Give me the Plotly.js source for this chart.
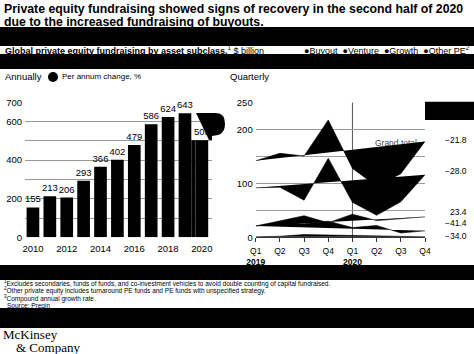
<!DOCTYPE html>
<html><head><meta charset="utf-8">
<script src="https://cdn.plot.ly/plotly-3.0.1.min.js"></script>
<style>html,body{margin:0;padding:0;background:#fff;overflow:hidden}#chart{width:474px;height:354px}</style>
</head><body><div id="chart"></div>
<script>
// ---------- data ----------
const years = [2010, 2011, 2012, 2013, 2014, 2015, 2016, 2017, 2018, 2019, 2020];
const annualTotals = [155, 213, 206, 293, 366, 402, 479, 586, 624, 643, 503];
const annualTickVals = [2010, 2012, 2014, 2016, 2018, 2020];
const annualYTicks = [0, 200, 400, 600, 700];

const quarterIdx = [0, 1, 2, 3, 4, 5, 6, 7];
const quarterLabels = ['Q1<br><b>2019</b>', 'Q2', 'Q3', 'Q4', 'Q1<br><b>2020</b>', 'Q2', 'Q3', 'Q4'];
const quarterYTicks = [0, 100, 200, 250];

const grandTotal = [142, 156, 151, 218, 128, 95, 118, 178];
const buyout     = [92, 93, 69, 147, 65, 41, 66, 116];
const growth     = [21, 30, 40, 27, 43, 31, 34, 38];
const venture    = [21, 27, 25, 30, 18, 22, 8, 12];
const otherPE    = [1, 2, 5, 4, 3, 2, 2, 1];
const changeLabels = ['\u221221.8', '\u221228.0', '23.4', '\u221241.4', '\u221234.0'];

// ---------- layout helpers ----------
const W = 474, H = 354;
const px = x => x / W;
const py = y => 1 - y / H;
const FONT = 'Liberation Sans, Arial, sans-serif';
const changeY = [181, 123, 47, 27, 2.4];   // label placement on quarterly scale

const traces = [];
traces.push({
  type: 'bar', x: years, y: annualTotals, xaxis: 'x', yaxis: 'y',
  marker: {color: '#000'}, width: 0.75,
  text: annualTotals.map(String), textposition: 'outside', cliponaxis: false,
  constraintext: 'none', textfont: {family: FONT, size: 9.5, color: '#000'},
  hoverinfo: 'skip'
});
traces.push({
  type: 'scatter', mode: 'text', x: [5.8], y: [174], text: ['Grand total'],
  xaxis: 'x2', yaxis: 'y2', cliponaxis: false,
  textfont: {family: FONT, size: 8.5, color: '#444'}, hoverinfo: 'skip'
});
[grandTotal, buyout, growth, venture, otherPE].forEach(s => {
  traces.push({
    type: 'scatter', mode: 'lines', x: quarterIdx, y: s, xaxis: 'x2', yaxis: 'y2',
    fill: 'toself', fillcolor: '#000', line: {color: '#000', width: 0.6},
    hoverinfo: 'skip'
  });
});
traces.push({
  type: 'scatter', mode: 'markers', x: changeY.map(() => 7.5), y: changeY,
  xaxis: 'x2', yaxis: 'y2', cliponaxis: false,
  marker: {color: '#000', size: 7}, hoverinfo: 'skip'
});

function band(y0, y1, x0 = 0, x1 = W) {
  return {type: 'rect', xref: 'paper', yref: 'paper', x0: px(x0), x1: px(x1),
          y0: py(y1), y1: py(y0), fillcolor: '#000', line: {width: 0}, layer: 'above'};
}
function bandAnn(y0, y1, x0 = 0, x1 = W) {
  return {xref: 'paper', yref: 'paper', x: px(x0), y: py(y0), xanchor: 'left', yanchor: 'top',
          text: ' ', showarrow: false, bgcolor: '#000', width: x1 - x0, height: y1 - y0,
          borderpad: 0, borderwidth: 0};
}
function txt(x, y, text, size, opts = {}) {
  return Object.assign({xref: 'paper', yref: 'paper', x: px(x), y: py(y), xanchor: 'left',
    yanchor: 'middle', text: text, showarrow: false,
    font: {family: FONT, size: size, color: '#000'}}, opts);
}

const bubblePath = 'M' + px(196) + ',' + py(113) + ' L' + px(216) + ',' + py(113) +
  ' Q' + px(225) + ',' + py(113) + ' ' + px(225) + ',' + py(124) +
  ' Q' + px(225) + ',' + py(133) + ' ' + px(218) + ',' + py(135) +
  ' L' + px(212) + ',' + py(136) + ' L' + px(212) + ',' + py(140) +
  ' L' + px(209) + ',' + py(140) + ' Z';

const serif = {family: 'Liberation Serif, serif', size: 13, color: '#000'};
const annotations = [
  txt(2, 9, '<b>Private equity fundraising showed signs of recovery in the second half of 2020</b>', 12.3),
  txt(2, 21.5, '<b>due to the increased fundraising of buyouts.</b>', 12.3),
  bandAnn(26.7, 46),
  txt(3, 50, '<b>Global private equity fundraising by asset subclass,</b><sup>1</sup> $ billion', 9),
  txt(472, 50, '\u25CFBuyout  \u25CFVenture  \u25CFGrowth  \u25CFOther PE<sup>2</sup>', 9, {xanchor: 'right'}),
  bandAnn(54.3, 69),
  txt(3, 77, 'Annually', 9.5),
  txt(60, 77, 'Per annum change, %', 8),
  txt(228, 77, 'Quarterly', 9.5),
  bandAnn(265, 280),
  txt(2, 283.3, '<sup>1</sup>Excludes secondaries, funds of funds, and co-investment vehicles to avoid double counting of capital fundraised.', 6.5),
  txt(2, 290.8, '<sup>2</sup>Other private equity includes turnaround PE funds and PE funds with unspecified strategy.', 6.5),
  txt(2, 298.3, '<sup>3</sup>Compound annual growth rate.', 6.5),
  txt(5, 305.8, 'Source: Preqin', 6.5),
  bandAnn(308, 328),
  txt(1, 334, 'McKinsey', 13, {font: serif}),
  txt(14, 347, '&amp; Company', 13, {font: serif})
];
changeLabels.forEach((t, i) => {
  annotations.push({xref: 'paper', yref: 'y2', x: px(469), y: changeY[i], xanchor: 'right',
    yanchor: 'middle', text: t, showarrow: false, font: {family: FONT, size: 8.5, color: '#000'}});
});

const shapes = [
  {type: 'rect', xref: 'x', yref: 'y', x0: 2019.375, x1: 2019.625, y0: 0, y1: 503,
   fillcolor: '#000', line: {width: 0}, layer: 'above'},
  {type: 'path', xref: 'paper', yref: 'paper', path: bubblePath, fillcolor: '#000',
   line: {width: 0}, layer: 'above'},
  {type: 'circle', xref: 'paper', yref: 'paper', x0: px(48), x1: px(58), y0: py(82), y1: py(72),
   fillcolor: '#000', line: {width: 0}},
  {type: 'line', xref: 'x2', yref: 'paper', x0: 4, x1: 4, y0: py(237.3), y1: py(102.7),
   line: {color: '#555', width: 1}, layer: 'below'},
  band(101.7, 120, 425, 474)
];

const axisFont = {family: FONT, size: 9.5, color: '#000'};
const layout = {
  width: W, height: H, margin: {l: 0, r: 0, t: 0, b: 0},
  paper_bgcolor: '#fff', plot_bgcolor: 'rgba(0,0,0,0)', showlegend: false,
  xaxis: {domain: [px(25), px(212)], range: [2009.53, 2020.6], anchor: 'y',
    tickvals: annualTickVals, ticktext: annualTickVals.map(String), showgrid: false,
    zeroline: false, ticks: '', tickfont: axisFont, ticklabelstandoff: 4, fixedrange: true},
  yaxis: {domain: [py(237.3), py(102.3)], range: [0, 700], anchor: 'x',
    tickvals: annualYTicks, ticktext: annualYTicks.map(String), gridcolor: '#999', gridwidth: 1,
    minor: {dtick: 100, tick0: 0, showgrid: true, gridcolor: '#999', gridwidth: 1},
    zeroline: false, ticks: '', tickfont: axisFont, ticklabelstandoff: 2, fixedrange: true},
  xaxis2: {domain: [px(255.7), px(425)], range: [0, 7], anchor: 'y2',
    tickvals: quarterIdx, ticktext: quarterLabels, showgrid: false, zeroline: false,
    showline: true, linecolor: '#333', linewidth: 1, ticks: 'outside', ticklen: 4,
    tickcolor: '#333', tickfont: {family: FONT, size: 8.5, color: '#000'},
    ticklabelstandoff: 1, fixedrange: true},
  yaxis2: {domain: [py(237.3), py(102.7)], range: [0, 250], anchor: 'x2',
    tickvals: quarterYTicks, ticktext: quarterYTicks.map(String), gridcolor: '#999', gridwidth: 1,
    minor: {dtick: 50, tick0: 0, showgrid: true, gridcolor: '#999', gridwidth: 1},
    zeroline: false, ticks: '', tickfont: axisFont, ticklabelstandoff: 2, fixedrange: true},
  annotations: annotations, shapes: shapes
};

Plotly.newPlot('chart', traces, layout, {staticPlot: true, displayModeBar: false});
</script></body></html>
